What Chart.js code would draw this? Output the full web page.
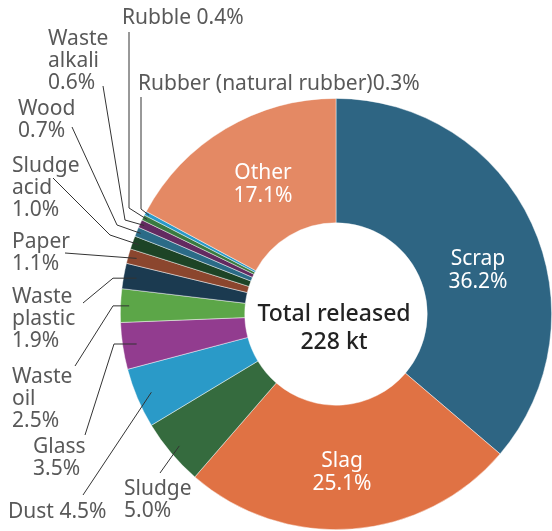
<!DOCTYPE html>
<html>
<head>
<meta charset="utf-8">
<script src="https://cdn.jsdelivr.net/npm/chart.js@4.4.1/dist/chart.umd.min.js"></script>
<style>
  html, body { margin: 0; padding: 0; background: #fff; }
  #wrap { width: 552px; height: 531px; }
</style>
</head>
<body>
<div id="wrap"><canvas id="wasteChart" width="552" height="531"></canvas></div>
<script>
// categories, clockwise from 12 o'clock
const categories = [
  "Scrap", "Slag", "Sludge", "Dust", "Glass", "Waste oil", "Waste plastic",
  "Paper", "Sludge acid", "Wood", "Waste alkali", "Rubble",
  "Rubber (natural rubber)", "Other"
];
// share of total released, %
const shares = [36.2, 25.1, 5.0, 4.5, 3.5, 2.5, 1.9, 1.1, 1.0, 0.7, 0.6, 0.4, 0.3, 17.1];
const sliceColors = [
  "#2e6583", "#e07244", "#356b3e", "#2a9ac8", "#923c8f", "#5ca648", "#1b3a50",
  "#8b462e", "#1d4426", "#2b6b87", "#632a60", "#3a7a40", "#2a9ac8", "#e48964"
];
const centerLines = ["Total released", "228 kt"];

const FONT = '"Noto Sans", "Open Sans", sans-serif';

// label text (lines), text anchor, leader path elbows, end radius as fraction of outer radius
const outsideLabels = {
  "Rubble":        { lines: ["Rubble 0.4%"], x: 122, y: 24, path: [[129, 32], [129, 208]], r: 0.98 },
  "Rubber (natural rubber)": { lines: ["Rubber (natural rubber)0.3%"], x: 138, y: 90, path: [[141, 97], [141, 209]], r: 0.98 },
  "Waste alkali":  { lines: ["Waste", "alkali", "0.6%"], x: 48, y: 45, path: [[103, 86], [125, 220]], r: 0.98 },
  "Wood":          { lines: ["Wood", "0.7%"], x: 18, y: 115, path: [[72, 127], [117, 225]], r: 0.98 },
  "Sludge acid":   { lines: ["Sludge", "acid", "1.0%"], x: 12, y: 172, path: [[53, 178], [110, 235]], r: 0.97 },
  "Paper":         { lines: ["Paper", "1.1%"], x: 12, y: 248, path: [[65, 253]], r: 0.96 },
  "Waste plastic": { lines: ["Waste", "plastic", "1.9%"], x: 12, y: 303, path: [[83, 303], [113, null]], r: 0.94 },
  "Waste oil":     { lines: ["Waste", "oil", "2.5%"], x: 12, y: 383, path: [[75, 366], [113, null]], r: 0.96 },
  "Glass":         { lines: ["Glass", "3.5%"], x: 33, y: 453, path: [[85, 435], [114, null]], r: 0.935 },
  "Dust":          { lines: ["Dust 4.5%"], x: 8, y: 518, path: [[83, 495]], r: 0.93 },
  "Sludge":        { lines: ["Sludge", "5.0%"], x: 124, y: 495, path: [[160, 473]], r: 0.95 }
};
// white labels inside the big slices: centre x, first baseline
const insideLabels = {
  "Scrap": { x: 478, y: 265 },
  "Slag":  { x: 342, y: 467 },
  "Other": { x: 263, y: 179 }
};

const labelPlugin = {
  id: "wasteLabels",
  afterDraw(chart) {
    const ctx = chart.ctx;
    const meta = chart.getDatasetMeta(0);
    ctx.save();
    meta.data.forEach((arc, i) => {
      const name = categories[i];
      const p = arc.getProps(["x", "y", "startAngle", "endAngle", "outerRadius"], true);
      const mid = (p.startAngle + p.endAngle) / 2;
      const pct = shares[i].toFixed(1) + "%";

      if (insideLabels[name]) {
        const l = insideLabels[name];
        ctx.fillStyle = "#ffffff";
        ctx.font = "21px " + FONT;
        ctx.textAlign = "center";
        ctx.textBaseline = "alphabetic";
        ctx.fillText(name, l.x, l.y);
        ctx.fillText(pct, l.x, l.y + 23);
      }

      const o = outsideLabels[name];
      if (o) {
        const ex = p.x + Math.cos(mid) * p.outerRadius * o.r;
        const ey = p.y + Math.sin(mid) * p.outerRadius * o.r;
        ctx.strokeStyle = "#333333";
        ctx.lineWidth = 1;
        ctx.beginPath();
        o.path.forEach((pt, k) => {
          const px = pt[0], py = pt[1] === null ? ey : pt[1];
          if (k === 0) ctx.moveTo(px, py); else ctx.lineTo(px, py);
        });
        ctx.lineTo(ex, ey);
        ctx.stroke();

        ctx.fillStyle = "#595959";
        ctx.font = "21px " + FONT;
        ctx.textAlign = "left";
        o.lines.forEach((t, k) => ctx.fillText(t, o.x, o.y + k * 22));
      }
    });

    // centre text
    const c = meta.data[0];
    ctx.fillStyle = "#222222";
    ctx.font = "500 23px " + FONT;
    ctx.textAlign = "center";
    ctx.fillText(centerLines[0], c.x - 2, 321);
    ctx.fillText(centerLines[1], c.x - 2, 349);
    ctx.restore();
  }
};

new Chart(document.getElementById("wasteChart"), {
  type: "doughnut",
  data: {
    labels: categories,
    datasets: [{
      data: shares,
      backgroundColor: sliceColors,
      borderColor: "rgba(255,255,255,0.6)",
      borderWidth: 0.75
    }]
  },
  options: {
    responsive: false,
    animation: false,
    cutout: "42.3%",
    layout: { padding: { left: 120, right: 0, top: 98, bottom: 1 } },
    plugins: {
      legend: { display: false },
      tooltip: { enabled: false }
    }
  },
  plugins: [labelPlugin]
});
</script>
</body>
</html>
